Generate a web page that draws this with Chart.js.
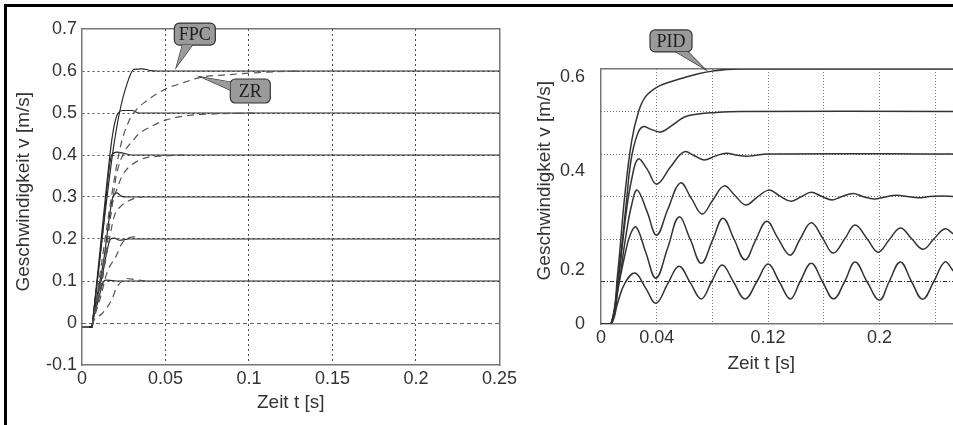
<!DOCTYPE html>
<html>
<head>
<meta charset="utf-8">
<script src="https://cdn.jsdelivr.net/npm/chart.js@4.4.0/dist/chart.umd.min.js"></script>
<style>
  html, body { margin: 0; padding: 0; background: #fff; }
  #wrap { position: relative; width: 953px; height: 425px; overflow: hidden; }
  #frame { position: absolute; left: 4px; top: 4px; right: -10px; bottom: -10px;
           border-top: 3px solid #000; border-left: 3px solid #000; }
  canvas { position: absolute; top: 0; }
  #left { left: 0; }
  #right { left: 520px; }
</style>
</head>
<body>
<div id="wrap">
  <div id="frame"></div>
  <canvas id="left" width="520" height="425"></canvas>
  <canvas id="right" width="433" height="425"></canvas>
</div>
<script>
"use strict";

// ---- left plot: FPC (solid) vs ZR (dashed), [t s, v m/s]
const fpc01 = [[0,-0.01],[0.006,-0.01],[0.0063,0],[0.0095,0.05],[0.0128,0.098],[0.0145,0.102],[0.018,0.101],[0.022,0.1],[0.25,0.1]];
const fpc02 = [[0,-0.01],[0.006,-0.01],[0.0063,0],[0.012,0.11],[0.0172,0.2],[0.0195,0.202],[0.0225,0.197],[0.025,0.198],[0.028,0.2],[0.25,0.2]];
const fpc03 = [[0,-0.01],[0.006,-0.01],[0.0063,0],[0.013,0.15],[0.0185,0.3],[0.021,0.31],[0.0235,0.302],[0.027,0.3],[0.25,0.3]];
const fpc04 = [[0,-0.01],[0.006,-0.01],[0.0063,0],[0.012,0.2],[0.0178,0.4],[0.021,0.407],[0.025,0.404],[0.03,0.4],[0.25,0.4]];
const fpc05 = [[0,-0.01],[0.006,-0.01],[0.0063,0],[0.012,0.22],[0.018,0.44],[0.021,0.495],[0.0245,0.506],[0.03,0.506],[0.034,0.5],[0.25,0.5]];
const fpc06 = [[0,-0.01],[0.006,-0.01],[0.0063,0],[0.012,0.2],[0.0184,0.405],[0.0224,0.5],[0.027,0.57],[0.031,0.604],[0.036,0.605],[0.041,0.601],[0.045,0.6],[0.25,0.6]];

const zr01 = [[0,-0.01],[0.006,-0.01],[0.0065,0],[0.012,0.022],[0.018,0.057],[0.0205,0.083],[0.024,0.1],[0.0265,0.106],[0.031,0.104],[0.036,0.101],[0.038,0.1]];
const zr02 = [[0,-0.01],[0.006,-0.01],[0.0065,0],[0.011,0.06],[0.015,0.12],[0.0205,0.16],[0.024,0.19],[0.028,0.203],[0.032,0.205],[0.035,0.2]];
const zr03 = [[0,-0.01],[0.006,-0.01],[0.0065,0],[0.011,0.08],[0.015,0.17],[0.0194,0.255],[0.023,0.277],[0.027,0.289],[0.031,0.296],[0.036,0.3]];
const zr04 = [[0,-0.01],[0.006,-0.01],[0.0065,0],[0.012,0.1],[0.016,0.22],[0.018,0.28],[0.021,0.32],[0.024,0.35],[0.028,0.371],[0.033,0.385],[0.038,0.393],[0.05,0.398],[0.061,0.4]];
const zr05 = [[0,-0.01],[0.006,-0.01],[0.0065,0],[0.012,0.12],[0.018,0.28],[0.0205,0.35],[0.025,0.405],[0.03,0.432],[0.034,0.45],[0.041,0.467],[0.05,0.483],[0.0635,0.494],[0.08,0.498],[0.106,0.5]];
const zr06 = [[0,-0.01],[0.006,-0.01],[0.0065,0],[0.012,0.15],[0.018,0.31],[0.023,0.42],[0.028,0.48],[0.033,0.51],[0.038,0.527],[0.05,0.557],[0.062,0.574],[0.071,0.585],[0.087,0.591],[0.1006,0.595],[0.116,0.598],[0.13,0.6]];

const xTicksL = [0, 0.05, 0.1, 0.15, 0.2, 0.25];
const xLabelsL = ["0", "0.05", "0.1", "0.15", "0.2", "0.25"];
const yTicksL = [-0.1, 0, 0.1, 0.2, 0.3, 0.4, 0.5, 0.6, 0.7];
const yLabelsL = ["-0.1", "0", "0.1", "0.2", "0.3", "0.4", "0.5", "0.6", "0.7"];

// ---- right plot: PID step responses
const pid06 = [[0,0],[0.0072,0],[0.012,0.12],[0.017,0.3],[0.022,0.43],[0.027,0.5],[0.032,0.535],[0.04,0.557],[0.05,0.57],[0.06,0.58],[0.07,0.589],[0.08,0.595],[0.09,0.599],[0.1,0.6],[0.253,0.6]];
const pid05 = [[0,0],[0.0072,0],[0.013,0.13],[0.018,0.28],[0.0216,0.386],[0.026,0.445],[0.03,0.464],[0.036,0.458],[0.043,0.452],[0.05,0.465],[0.06,0.487],[0.07,0.494],[0.079,0.497],[0.1,0.5],[0.253,0.5]];
const pid04 = [[0,0],[0.0072,0],[0.013,0.12],[0.018,0.26],[0.022,0.34],[0.0266,0.388],[0.033,0.365],[0.04,0.329],[0.05,0.37],[0.0596,0.405],[0.067,0.396],[0.074,0.386],[0.082,0.395],[0.09,0.402],[0.098,0.397],[0.106,0.395],[0.12,0.4],[0.253,0.4]];
const pid03 = [[0,0],[0.0072,0],[0.013,0.1],[0.018,0.21],[0.022,0.28],[0.026,0.315],[0.033,0.265],[0.04,0.209],[0.048,0.27],[0.057,0.332],[0.065,0.295],[0.0726,0.259],[0.08,0.29],[0.0884,0.325],[0.096,0.303],[0.104,0.28],[0.112,0.298],[0.1207,0.315],[0.128,0.302],[0.1365,0.289],[0.144,0.3],[0.151,0.31],[0.158,0.301],[0.166,0.292],[0.173,0.3],[0.181,0.307],[0.188,0.3],[0.196,0.294],[0.204,0.299],[0.212,0.303],[0.22,0.3],[0.228,0.297],[0.236,0.3],[0.244,0.301],[0.253,0.3]];
const pid02 = [[0,0],[0.0072,0],[0.012,0.08],[0.017,0.16],[0.021,0.21],[0.0252,0.228],[0.032,0.17],[0.0395,0.108],[0.048,0.18],[0.056,0.252],[0.064,0.2],[0.072,0.143],[0.08,0.196],[0.0876,0.249],[0.0955,0.2],[0.1034,0.151],[0.111,0.197],[0.119,0.242],[0.127,0.202],[0.1358,0.162],[0.143,0.2],[0.151,0.238],[0.159,0.203],[0.1667,0.167],[0.175,0.2],[0.1825,0.233],[0.191,0.201],[0.199,0.169],[0.207,0.198],[0.215,0.226],[0.223,0.201],[0.2313,0.176],[0.239,0.2],[0.247,0.224],[0.253,0.212]];
const pid01 = [[0,0],[0.0072,0],[0.012,0.05],[0.017,0.095],[0.0244,0.12],[0.032,0.085],[0.0395,0.049],[0.048,0.095],[0.056,0.136],[0.064,0.098],[0.072,0.059],[0.0795,0.1],[0.087,0.139],[0.095,0.1],[0.1034,0.059],[0.112,0.1],[0.12,0.141],[0.128,0.1],[0.136,0.059],[0.143,0.1],[0.151,0.143],[0.159,0.1],[0.167,0.059],[0.175,0.1],[0.1825,0.146],[0.191,0.1],[0.2,0.056],[0.207,0.1],[0.215,0.146],[0.223,0.1],[0.231,0.058],[0.239,0.1],[0.247,0.146],[0.253,0.125]];

const xTicksR = [0, 0.04, 0.08, 0.12, 0.16, 0.2, 0.24];
const xLabelsR = ["0", "0.04", "", "0.12", "", "0.2", ""];
const yGridR = [0.2, 0.3, 0.4, 0.5];
const yLabelPosR = [0, 0.127, 0.36, 0.58];
const yLabelsR = ["0", "0.2", "0.4", "0.6"];

const SANS = '"Liberation Sans", Arial, sans-serif';
Chart.defaults.font.family = SANS;
Chart.defaults.color = "#333";

const near = (a, b) => Math.abs(a - b) < 1e-6;
const pts = arr => arr.map(([x, y]) => ({ x, y }));
const fixW = w => s => { s.width = w; };
const fixH = h => s => { s.height = h; };
const setTicks = vals => s => { s.ticks = vals.map(value => ({ value })); };
const tickFont = { family: SANS, size: 18 };
const titleFont = { family: SANS, size: 19 };
const NONE = "rgba(0,0,0,0)";

// extra axis that only draws one kind of grid line
const gridAxis = (pos, min, max, vals, color, dash) => ({
  type: "linear", position: pos, min, max,
  afterBuildTicks: setTicks(vals),
  afterFit: pos === "left" || pos === "right" ? fixW(0) : fixH(0),
  ticks: { display: false },
  grid: { drawTicks: false, color, lineWidth: 1 },
  border: { display: false, dash }
});
// zero-size axis used only for its border line
const edgeAxis = (pos, min, max) => ({
  type: "linear", position: pos, min, max,
  afterFit: pos === "left" || pos === "right" ? fixW(0) : fixH(0),
  ticks: { display: false },
  grid: { display: false },
  border: { display: true, color: "#777", width: 1.5 }
});

const callouts = {
  id: "callouts",
  afterDraw(chart, args, opts) {
    const { ctx, scales: { x, y } } = chart;
    (opts.items || []).forEach(c => {
      const bx = x.getPixelForValue(c.t), by = y.getPixelForValue(c.v);
      const tx = x.getPixelForValue(c.tipT), ty = y.getPixelForValue(c.tipV);
      const tri = () => {
        ctx.beginPath();
        ctx.moveTo(bx + c.base[0][0], by + c.base[0][1]);
        ctx.lineTo(tx, ty);
        ctx.lineTo(bx + c.base[1][0], by + c.base[1][1]);
        ctx.closePath();
      };
      ctx.save();
      ctx.fillStyle = "#9a9a9a";
      ctx.strokeStyle = "#333";
      ctx.lineWidth = 1.2;
      tri(); ctx.stroke();
      ctx.beginPath(); ctx.roundRect(bx, by, c.w, c.h, 5); ctx.fill(); ctx.stroke();
      tri(); ctx.fill();
      ctx.fillStyle = "#1e1e1e";
      ctx.font = '18px "Liberation Serif", serif';
      ctx.textAlign = "center";
      ctx.textBaseline = "middle";
      ctx.fillText(c.text, bx + c.w / 2, by + c.h / 2 + 1);
      ctx.restore();
    });
  }
};

const line = (arr, dashed) => ({
  data: pts(arr),
  borderColor: dashed ? "#555" : "#2a2a2a",
  borderWidth: 1.2,
  borderDash: dashed ? [7, 5] : [],
  pointRadius: 0,
  cubicInterpolationMode: "monotone",
  fill: false
});

const common = {
  responsive: false,
  animation: false,
  events: [],
  plugins: { legend: { display: false }, tooltip: { enabled: false } }
};

new Chart(document.getElementById("left"), {
  type: "line",
  data: {
    datasets: [zr01, zr02, zr03, zr04, zr05, zr06].map(a => line(a, true))
      .concat([fpc01, fpc02, fpc03, fpc04, fpc05, fpc06].map(a => line(a, false)))
  },
  plugins: [callouts],
  options: {
    ...common,
    layout: { padding: { left: 0, right: 13, top: 29, bottom: 0 } },
    plugins: {
      ...common.plugins,
      callouts: {
        items: [
          { text: "FPC", t: 0.0553, v: 0.714, w: 41, h: 22, tipT: 0.0565, tipV: 0.6095, base: [[8, 22], [18, 22]] },
          { text: "ZR", t: 0.0888, v: 0.581, w: 40, h: 24, tipT: 0.0712, tipV: 0.586, base: [[0, 3], [0, 11]] }
        ]
      }
    },
    scales: {
      x: {
        type: "linear", position: "bottom", min: 0, max: 0.25,
        afterBuildTicks: setTicks(xTicksL),
        afterFit: fixH(60),
        ticks: { padding: 3, font: tickFont, autoSkip: false, maxRotation: 0, callback: (v, i) => xLabelsL[i] },
        grid: { drawTicks: false, lineWidth: 1,
                color: c => (near(c.tick.value, 0) || near(c.tick.value, 0.25)) ? NONE : "#4a4a4a" },
        border: { display: true, color: "#777", width: 1.5, dash: [2, 3] },
        title: { display: true, text: "Zeit t [s]", font: titleFont, color: "#333", padding: { top: 0, bottom: 11 } }
      },
      y: {
        type: "linear", position: "left", min: -0.1, max: 0.7,
        afterBuildTicks: setTicks(yTicksL),
        afterFit: fixW(82),
        ticks: { padding: 5, font: tickFont, callback: (v, i) => yLabelsL[i] },
        grid: { drawTicks: false, lineWidth: 1,
                color: c => [-0.1, 0, 0.7].some(z => near(c.tick.value, z)) ? NONE : "#4a4a4a" },
        border: { display: true, color: "#777", width: 1.5, dash: [2, 3] },
        title: { display: true, text: "  Geschwindigkeit v [m/s]", font: titleFont, color: "#333", padding: { top: 12, bottom: 0 } }
      },
      y0: gridAxis("left", -0.1, 0.7, [0], "#666", [4, 3]),
      xt: edgeAxis("top", 0, 0.25),
      yr: edgeAxis("right", -0.1, 0.7)
    }
  }
});

new Chart(document.getElementById("right"), {
  type: "line",
  data: {
    datasets: [pid01, pid02, pid03, pid04, pid05, pid06].map(a => {
      const d = line(a, false);
      d.borderColor = "#333";
      d.borderWidth = 1.5;
      d.cubicInterpolationMode = "default";
      d.tension = 0.4;
      return d;
    })
  },
  plugins: [callouts],
  options: {
    ...common,
    layout: { padding: { left: 0, right: 0, top: 69, bottom: 0 } },
    plugins: {
      ...common.plugins,
      callouts: {
        items: [
          { text: "PID", t: 0.0352, v: 0.692, w: 42, h: 22, tipT: 0.0747, tipV: 0.6, base: [[26, 22], [38, 22]] }
        ]
      }
    },
    scales: {
      x: {
        type: "linear", position: "bottom", min: 0, max: 0.2528,
        afterBuildTicks: setTicks(xTicksR),
        afterFit: fixH(101),
        ticks: { padding: 3, font: tickFont, autoSkip: false, maxRotation: 0, callback: (v, i) => xLabelsR[i] },
        grid: { drawTicks: false, lineWidth: 1, color: c => near(c.tick.value, 0) ? NONE : "#777" },
        border: { display: true, color: "#777", width: 1.5, dash: [1, 2] },
        title: { display: true, text: "Zeit t [s]      ", font: titleFont, color: "#333", padding: { top: 0, bottom: 50 } }
      },
      y: {
        type: "linear", position: "left", min: 0, max: 0.6,
        afterBuildTicks: setTicks(yLabelPosR),
        afterFit: fixW(81),
        ticks: { padding: 8, font: tickFont, callback: (v, i) => yLabelsR[i] },
        grid: { display: false },
        border: { display: true, color: "#777", width: 1.5 },
        title: { display: true, text: "      Geschwindigkeit v [m/s]", font: titleFont, color: "#333", padding: { top: 13, bottom: 0 } }
      },
      yg: gridAxis("left", 0, 0.6, yGridR, "#777", [1, 2]),
      yg1: gridAxis("left", 0, 0.6, [0.1], "#333", [4, 2, 1, 2]),
      xt: edgeAxis("top", 0, 0.2528)
    }
  }
});
</script>
</body>
</html>
